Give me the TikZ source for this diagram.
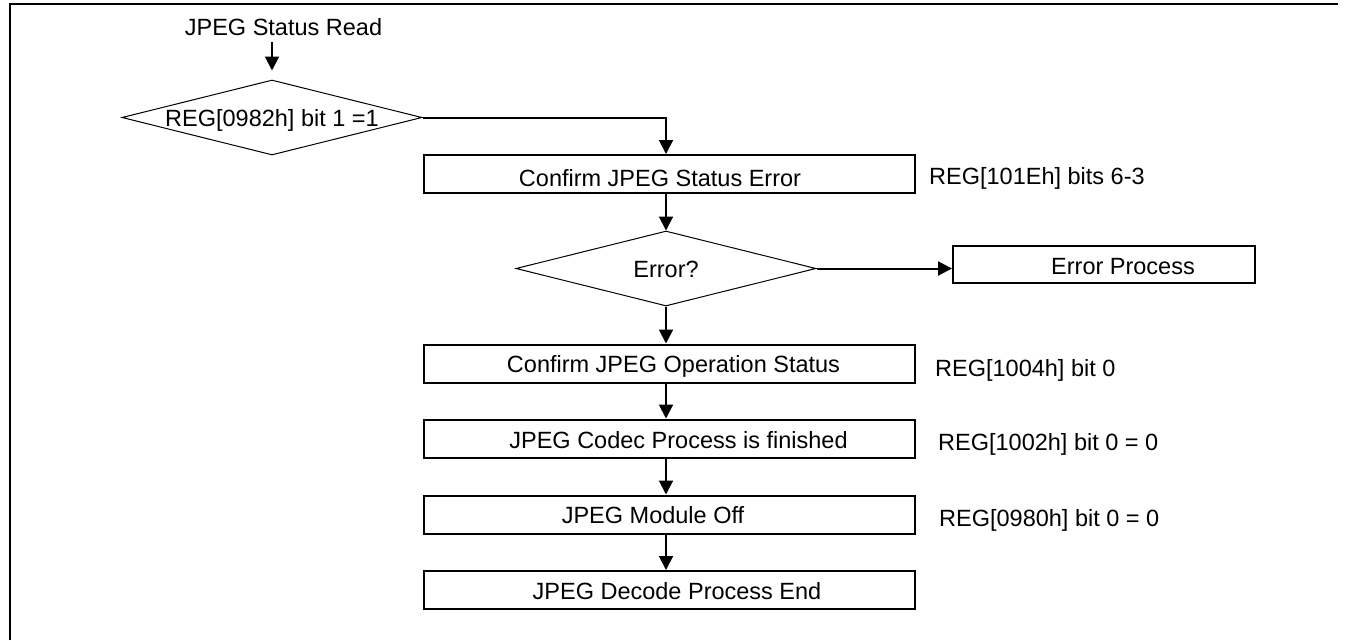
\documentclass[tikz,border=0pt]{standalone}
\usepackage{fontspec}
\setmainfont{Liberation Sans}
\usetikzlibrary{arrows.meta,shapes.geometric}
\begin{document}
\begin{tikzpicture}[x=1pt,y=-1pt,
  every node/.style={font=\fontsize{23.5}{28}\selectfont, inner sep=0pt},
  every label/.style={text height=17pt, text depth=0pt},
  procbox/.style={draw, line width=2pt, minimum width=491pt, minimum height=38pt},
  decision/.style={draw, diamond, line width=1pt, minimum width=300pt, minimum height=75pt, aspect=4},
  arr/.style={line width=2pt, -{Triangle[length=14pt,width=14pt]}},
  note/.style={anchor=base west},
]
\useasboundingbox (0,0) rectangle (1349,640);
\draw[line width=2pt] (10,640) -- (10,4) -- (1338,4);

\node[anchor=base] (title) at (283.5,35) {JPEG Status Read};
\node[decision, label={center:REG[0982h] bit 1 =1}] (d1) at (272,117.5) {};
\node[procbox, label={[xshift=-9.5pt,yshift=-4pt]center:Confirm JPEG Status Error}] (b1) at (669.5,174) {};
\node[decision, label={center:Error?}] (d2) at (666,268.5) {};
\node[procbox, minimum width=302pt, minimum height=37pt, label={[xshift=19pt,yshift=-1pt]center:Error Process}] (err) at (1104,264.5) {};
\node[procbox, label={[xshift=4pt]center:Confirm JPEG Operation Status}] (b2) at (669.5,363.5) {};
\node[procbox, label={[xshift=9pt,yshift=-1pt]center:JPEG Codec Process is finished}] (b3) at (669.5,438.5) {};
\node[procbox, label={[xshift=-16.5pt]center:JPEG Module Off}] (b4) at (669.5,514.5) {};
\node[procbox, label={[xshift=7.5pt,yshift=-1pt]center:JPEG Decode Process End}] (b5) at (669.5,590) {};

\node[note] (n1) at (929,184) {REG[101Eh] bits 6-3};
\node[note] (n2) at (935,376.7) {REG[1004h] bit 0};
\node[note] (n3) at (938,450.7) {REG[1002h] bit 0 = 0};
\node[note] (n4) at (939,526.7) {REG[0980h] bit 0 = 0};

\draw[arr, shorten <=7pt, shorten >=9pt] (title.south -| d1.north) -- (d1.north);
\draw[arr] (d1.east) -| (d2.north |- b1.north);
\draw[arr] (d2.north |- b1.south) -- (d2.north);
\draw[arr] (d2.east) -- (d2.east -| err.west);
\draw[arr] (d2.south) -- (d2.south |- b2.north);
\draw[arr] (d2.south |- b2.south) -- (d2.south |- b3.north);
\draw[arr] (d2.south |- b3.south) -- (d2.south |- b4.north);
\draw[arr] (d2.south |- b4.south) -- (d2.south |- b5.north);
\end{tikzpicture}
\end{document}
